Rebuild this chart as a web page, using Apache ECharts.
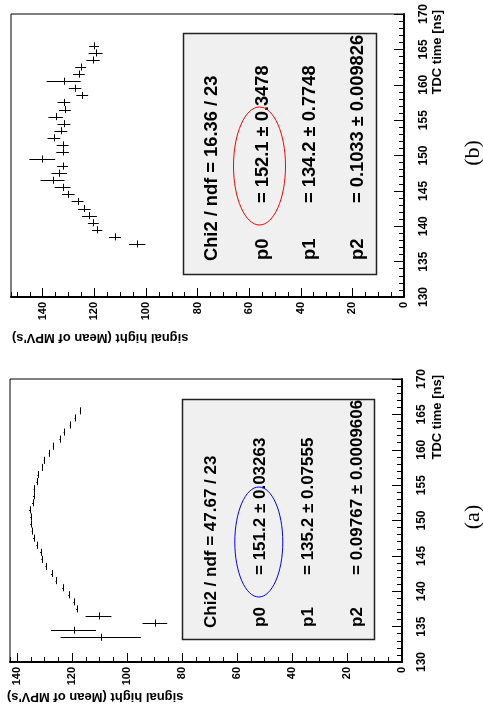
<!DOCTYPE html>
<html>
<head>
<meta charset="utf-8">
<script src="https://cdn.jsdelivr.net/npm/echarts@6/dist/echarts.min.js"></script>
<style>
  html, body { margin: 0; padding: 0; background: #fff; }
  #chart { width: 483px; height: 717px; }
</style>
</head>
<body>
<div id="chart"></div>
<script>
// ---- Panel (a): TDC time bin centres [ns], mean MPV signal height, errors ----
const timeA = [133.5, 134.5, 135.5, 136.5, 137.5, 138.5, 139.5, 140.5, 141.5, 142.5, 143.5,
  144.5, 145.5, 146.5, 147.5, 148.5, 149.5, 150.5, 151.5, 152.5, 153.5, 154.5, 155.5,
  156.5, 157.5, 158.5, 159.5, 160.5, 161.5, 162.5, 163.5, 164.5, 165.5];
const signalA = [109.6, 119.5, 89.9, 110.4, 118.3, 119.3, 121.2, 123.4, 125.8, 127.5, 129.5,
  131.0, 131.5, 132.8, 134.0, 134.5, 135.0, 135.0, 135.5, 134.4, 134.0, 133.8, 132.8,
  132.4, 130.8, 130.1, 128.3, 126.8, 124.4, 122.9, 120.7, 118.9, 117.0];
const signalErrA = [14.6, 8.2, 4.5, 4.7, 0.2, 0.2, 0.2, 0.2, 0.2, 0.2, 0.2,
  0.2, 0.2, 0.2, 0.2, 0.2, 0.2, 0.2, 0.2, 0.2, 0.2, 0.2, 0.2,
  0.2, 0.2, 0.2, 0.2, 0.2, 0.2, 0.2, 0.2, 0.2, 0.2];

// ---- Panel (b) ----
const timeB = [137.5, 138.5, 139.5, 140.5, 141.5, 142.5, 143.5, 144.5, 145.5, 146.5, 147.5,
  148.5, 149.5, 150.5, 151.5, 152.5, 153.5, 154.5, 155.5, 156.5, 157.5, 158.5, 159.5,
  160.5, 161.5, 162.5, 163.5, 164.5, 165.5];
const signalB = [103.4, 112.0, 118.9, 120.4, 121.9, 123.9, 126.5, 130.1, 132.3, 136.2, 133.6,
  132.3, 140.2, 132.3, 132.3, 135.7, 133.0, 131.8, 135.0, 131.4, 131.8, 124.7, 127.5,
  131.9, 126.0, 125.3, 120.5, 119.5, 120.1];
const signalErrB = [3.2, 2.3, 2.0, 2.1, 2.9, 2.45, 2.3, 2.45, 3.1, 4.65, 3.0,
  2.1, 5.0, 2.45, 2.3, 2.45, 2.5, 2.5, 2.8, 2.3, 2.45, 2.3, 2.4,
  6.6, 2.3, 2.1, 2.6, 2.7, 1.9];

// half width of a TDC time bin [ns]
const timeBinHalfWidth = 0.5;

// axis ranges
const timeMin = 130, timeMax = 170;
const signalMaxA = 142.6, signalMaxB = 152.3;

// fit results shown in the stat boxes
const statsA = {
  chi2: 'Chi2 / ndf = 47.67 / 23',
  names: ['p0', 'p1', 'p2'],
  values: ['= 151.2 \u00b1 0.03263', '= 135.2 \u00b1 0.07555', '= 0.09767 \u00b1 0.0009606']
};
const statsB = {
  chi2: 'Chi2 / ndf = 16.36 / 23',
  names: ['p0', 'p1', 'p2'],
  values: ['= 152.1 \u00b1 0.3478', '= 134.2 \u00b1 0.7748', '= 0.1033 \u00b1 0.009826']
};

const xTitle = "signal hight (Mean of MPV's)";
const yTitle = 'TDC time [ns]';

const SANS = '"Liberation Sans", Arial, Helvetica, sans-serif';
const SERIF = '"Liberation Serif", "Times New Roman", serif';

function points(times, signals, errs) {
  return times.map((t, i) => [signals[i], t, errs[i], timeBinHalfWidth]);
}

const px = v => Math.round(v) + 0.5;

function renderCross(params, api) {
  const s = api.value(0), t = api.value(1), se = api.value(2), te = api.value(3);
  const l = api.coord([s - se, t]), r = api.coord([s + se, t]);
  const lo = api.coord([s, t - te]), hi = api.coord([s, t + te]);
  const yc = px(l[1]), xc = px(lo[0]);
  return {
    type: 'group',
    children: [
      { type: 'line', shape: { x1: l[0], y1: yc, x2: r[0], y2: yc },
        style: { stroke: '#000', lineWidth: 1 } },
      { type: 'line', shape: { x1: xc, y1: lo[1], x2: xc, y2: hi[1] },
        style: { stroke: '#000', lineWidth: 1 } }
    ]
  };
}

// grid 0 = panel (b) on top, grid 1 = panel (a) below
const grids = [
  { left: 11, top: 14, width: 393, height: 283 },
  { left: 10, top: 379, width: 392, height: 283 }
];
const signalMax = [signalMaxB, signalMaxA];

const xAxes = [], yAxes = [];
grids.forEach((g, i) => {
  // major signal ticks + labels
  xAxes.push({
    gridIndex: i, type: 'value', inverse: true, position: 'bottom',
    min: 0, max: signalMax[i], interval: 20,
    axisLine: { show: true, onZero: false, lineStyle: { color: '#000', width: 2 } },
    axisTick: { show: true, inside: true, length: 9, lineStyle: { color: '#000', width: 1 } },
    axisLabel: { rotate: 90, margin: 5, fontFamily: SANS, fontWeight: 'bold', fontSize: 11,
      color: '#000', showMaxLabel: false },
    splitLine: { show: false }
  });
  // minor signal ticks every 5
  xAxes.push({
    gridIndex: i, type: 'value', inverse: true, position: 'bottom',
    min: 0, max: signalMax[i], interval: 5,
    axisLine: { show: false },
    axisTick: { show: true, inside: true, length: 5, lineStyle: { color: '#000', width: 1 } },
    axisLabel: { show: false },
    splitLine: { show: false }
  });
  yAxes.push({
    gridIndex: i, type: 'value', position: 'right',
    min: timeMin, max: timeMax, interval: 5,
    axisLine: { show: true, onZero: false, lineStyle: { color: '#000', width: 2 } },
    axisTick: { show: true, inside: true, length: 10, lineStyle: { color: '#000', width: 1 } },
    minorTick: { show: true, splitNumber: 5, length: 5, lineStyle: { color: '#000', width: 1 } },
    axisLabel: { rotate: 90, margin: 14, fontFamily: SANS, fontWeight: 'bold', fontSize: 12,
      color: '#000' },
    splitLine: { show: false },
    minorSplitLine: { show: false }
  });
});

function statText(text, x, y, size, align) {
  return {
    type: 'text', x: x, y: y, rotation: Math.PI / 2, z: 20,
    style: { text: text, fill: '#000', font: 'bold ' + size + 'px ' + SANS,
      align: align || 'left', verticalAlign: 'middle' }
  };
}

function statsBox(st, box, rows, nameY, valueY, size) {
  const els = [{
    type: 'rect', z: 15,
    shape: box,
    style: { fill: '#f0f0f0', stroke: '#222', lineWidth: 1.5 }
  }];
  els.push(statText(st.chi2, rows[0], nameY + 1, size));
  st.names.forEach((n, k) => {
    els.push(statText(n, rows[k + 1], nameY, size));
    els.push(statText(st.values[k], rows[k + 1], valueY, size));
  });
  return els;
}

const graphics = []
  .concat(statsBox(statsB, { x: 183.5, y: 33.5, width: 193, height: 241 },
    [212, 263, 310, 358], 260, 203, 18.3))
  .concat(statsBox(statsA, { x: 182.5, y: 399.5, width: 192, height: 240 },
    [211.5, 260, 308, 357], 627, 575, 17))
  .concat([
    { type: 'ellipse', z: 25, shape: { cx: 259.5, cy: 166, rx: 26, ry: 59 },
      style: { fill: null, stroke: '#ff0000', lineWidth: 1 } },
    { type: 'ellipse', z: 25, shape: { cx: 258.8, cy: 542, rx: 24, ry: 55 },
      style: { fill: null, stroke: '#0000ff', lineWidth: 1 } },
    // axis titles
    { type: 'text', x: 12, y: 338, rotation: Math.PI,
      style: { text: xTitle, fill: '#000', font: 'bold 13px ' + SANS, align: 'right', verticalAlign: 'middle' } },
    { type: 'text', x: 7, y: 697, rotation: Math.PI,
      style: { text: xTitle, fill: '#000', font: 'bold 13px ' + SANS, align: 'right', verticalAlign: 'middle' } },
    { type: 'text', x: 437, y: 10, rotation: Math.PI / 2,
      style: { text: yTitle, fill: '#000', font: 'bold 13px ' + SANS, align: 'right', verticalAlign: 'middle' } },
    { type: 'text', x: 437, y: 375, rotation: Math.PI / 2,
      style: { text: yTitle, fill: '#000', font: 'bold 13px ' + SANS, align: 'right', verticalAlign: 'middle' } },
    // panel captions
    { type: 'text', x: 473, y: 153, rotation: Math.PI / 2,
      style: { text: '(b)', fill: '#000', font: '22px ' + SERIF, align: 'center', verticalAlign: 'middle' } },
    { type: 'text', x: 473, y: 517, rotation: Math.PI / 2,
      style: { text: '(a)', fill: '#000', font: '22px ' + SERIF, align: 'center', verticalAlign: 'middle' } }
  ]);

const chart = echarts.init(document.getElementById('chart'), null, { renderer: 'canvas' });
chart.setOption({
  backgroundColor: '#fff',
  animation: false,
  grid: grids.map(g => Object.assign({
    show: true, borderColor: '#000', borderWidth: 1, backgroundColor: 'transparent',
    containLabel: false, outerBoundsMode: 'none'
  }, g)),
  xAxis: xAxes,
  yAxis: yAxes,
  series: [
    { type: 'custom', xAxisIndex: 0, yAxisIndex: 0, renderItem: renderCross,
      data: points(timeB, signalB, signalErrB), clip: false, z: 10 },
    { type: 'custom', xAxisIndex: 2, yAxisIndex: 1, renderItem: renderCross,
      data: points(timeA, signalA, signalErrA), clip: false, z: 10 }
  ],
  graphic: graphics
});
</script>
</body>
</html>
